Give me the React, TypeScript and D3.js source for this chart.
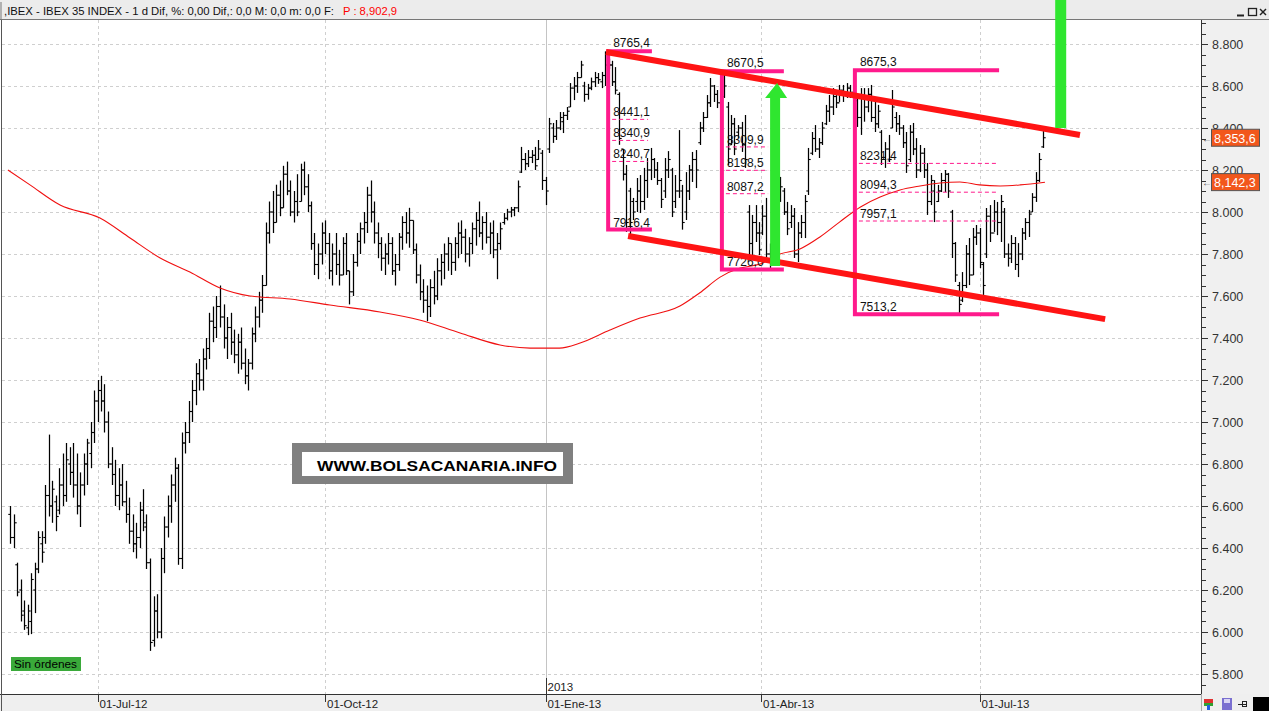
import React from "react";
import * as d3 from "d3";

// ---------- DATA ----------
// daily bars, index = trading day (0 = early June 2012). [open, high, low, close]
const priceBars: number[][] = [
  [6560,6600,6420,6450],[6450,6560,6400,6520],[6320,6330,6170,6190],[6200,6250,6050,6080],[6100,6150,6010,6030],
  [6020,6130,5985,6100],[6050,6280,5990,6250],[6200,6330,6090,6300],[6300,6480,6280,6450],[6420,6480,6330,6380],
  [6450,6700,6420,6650],[6650,6940,6550,6600],[6600,6720,6520,6680],[6620,6650,6480,6550],[6580,6780,6560,6700],
  [6700,6850,6600,6650],[6650,6900,6620,6820],[6800,6880,6700,6760],[6760,6900,6640,6700],[6700,6850,6560,6600],
  [6600,6760,6500,6700],[6700,6850,6650,6800],[6800,6920,6700,6900],[6850,7000,6780,6950],[6950,7150,6900,7100],
  [7100,7200,7000,7150],[7150,7220,7050,7100],[7100,7180,6950,7000],[7000,7050,6780,6800],[6800,6880,6700,6750],
  [6750,6820,6600,6650],[6650,6780,6580,6700],[6700,6800,6600,6620],[6620,6720,6520,6560],[6560,6640,6420,6480],
  [6480,6560,6380,6420],[6420,6520,6350,6450],[6450,6620,6400,6580],[6580,6680,6480,6520],[6500,6560,6300,6330],
  [6330,6350,5910,5950],[5960,6170,5930,6100],[6100,6180,5970,6000],[6000,6400,5970,6350],[6350,6550,6280,6500],
  [6500,6650,6450,6600],[6600,6750,6520,6700],[6700,6830,6620,6780],[6780,6800,6320,6350],[6350,6950,6300,6900],
  [6900,7000,6850,6950],[6950,7100,6900,7050],[7050,7200,7000,7150],[7150,7280,7080,7230],[7230,7300,7150,7200],
  [7200,7350,7150,7300],[7300,7400,7250,7350],[7350,7520,7300,7480],[7480,7550,7380,7450],[7450,7600,7400,7550],
  [7550,7650,7450,7500],[7500,7560,7350,7400],[7400,7500,7300,7450],[7450,7520,7320,7380],[7380,7440,7280,7320],
  [7320,7420,7230,7380],[7380,7450,7250,7280],[7280,7350,7180,7220],[7220,7300,7150,7280],[7280,7450,7250,7420],
  [7420,7550,7380,7500],[7500,7620,7450,7580],[7580,7700,7520,7650],[7650,7950,7650,7900],[7900,8050,7850,8000],
  [8000,8100,7900,7950],[7950,8130,7950,8080],[8080,8150,7980,8020],[8020,8220,8020,8180],[8180,8240,8080,8100],
  [8100,8150,7980,8000],[8000,8100,7950,8050],[8050,8180,7980,8000],[8050,8230,8050,8200],[8200,8240,8080,8120],
  [8120,8180,8000,8030],[8030,8050,7820,7850],[7850,7900,7700,7750],[7750,7850,7680,7800],[7800,7950,7750,7900],
  [7900,7960,7800,7850],[7850,7900,7680,7720],[7720,7850,7650,7800],[7800,7900,7700,7750],[7750,7820,7650,7700],
  [7700,7880,7700,7850],[7850,7900,7700,7720],[7720,7720,7560,7620],[7620,7800,7600,7760],[7760,7900,7740,7860],
  [7860,7950,7800,7920],[7920,8000,7850,7950],[7950,8120,7900,8080],[8080,8150,7950,8000],[8000,8050,7850,7900],
  [7900,7950,7780,7850],[7850,7880,7720,7780],[7780,7850,7700,7800],[7800,7900,7750,7850],[7850,7880,7700,7720],
  [7720,7800,7650,7750],[7750,7900,7720,7880],[7880,7980,7820,7950],[7950,8000,7850,7900],[7900,8020,7830,7960],
  [7960,7960,7800,7820],[7820,7850,7660,7700],[7700,7750,7580,7620],[7620,7680,7520,7580],[7580,7650,7480,7550],
  [7550,7680,7500,7640],[7640,7720,7560,7600],[7600,7780,7580,7720],[7720,7800,7650,7760],[7760,7850,7680,7800],
  [7800,7880,7720,7850],[7850,7850,7700,7760],[7760,7880,7720,7850],[7850,7950,7780,7900],[7900,7960,7800,7880],
  [7880,7920,7760,7800],[7800,7880,7740,7850],[7850,7950,7800,7920],[7920,8000,7840,7960],[7960,8050,7880,7900],
  [7900,7980,7820,7950],[7950,8000,7850,7880],[7880,7950,7800,7900],[7900,7960,7780,7820],[7820,7900,7680,7850],
  [7850,7950,7820,7920],[7950,7995,7940,7970],[7970,8015,7960,8000],[8000,8024,7975,8010],[8010,8024,7980,8020],
  [8020,8150,8000,8120],[8190,8310,8186,8250],[8250,8281,8200,8230],[8230,8295,8214,8260],[8260,8295,8233,8270],
  [8270,8310,8200,8220],[8250,8343,8248,8300],[8280,8295,8105,8150],[8150,8167,8033,8100],[8300,8448,8281,8420],
  [8400,8424,8329,8360],[8360,8438,8343,8400],[8400,8476,8390,8450],[8430,8476,8376,8460],[8460,8500,8438,8480],
  [8500,8614,8500,8590],[8590,8643,8533,8600],[8600,8667,8567,8640],[8640,8720,8640,8700],[8600,8620,8525,8560],
  [8560,8610,8535,8590],[8590,8640,8580,8620],[8620,8667,8595,8640],[8640,8662,8610,8630],[8620,8667,8590,8650],
  [8650,8765,8600,8700],[8700,8730,8680,8700],[8700,8720,8600,8620],[8620,8690,8560,8580],[8560,8570,8320,8350],
  [8300,8300,8150,8180],[8180,8224,7905,7950],[8100,8115,7890,7950],[8050,8067,7962,8000],[8050,8162,8000,8100],
  [8100,8176,7995,8050],[8050,8210,8010,8150],[8150,8257,8067,8200],[8200,8305,8152,8250],[8250,8257,8162,8200],
  [8200,8238,8129,8150],[8150,8162,8019,8060],[8100,8257,8067,8200],[8200,8290,8162,8250],[8200,8210,7976,8000],
  [8050,8176,8019,8100],[8100,8390,8067,8150],[8100,8129,7916,7950],[8000,8190,7962,8100],[8100,8224,8057,8200],
  [8200,8286,8143,8250],[8250,8295,8114,8200],[8330,8429,8319,8400],[8400,8476,8381,8450],[8450,8557,8448,8520],
  [8520,8638,8500,8600],[8600,8605,8524,8560],[8560,8581,8495,8520],[8520,8571,8448,8550],[8550,8670,8543,8600],
  [8500,8524,8224,8300],[8320,8462,8319,8420],[8420,8448,8271,8300],[8380,8414,8352,8400],[8400,8429,8286,8320],
  [8320,8462,8210,8250],[8000,8033,7795,7850],[7850,7986,7795,7950],[7950,8033,7857,7900],[7900,7952,7795,7820],
  [7900,8033,7890,7980],[7980,8067,7781,7800],[7800,7850,7727,7760],[7880,8010,7867,7990],[7990,8143,7905,8100],
  [8100,8167,8048,8120],[8100,8114,7986,8000],[8000,8048,7890,7920],[7950,8033,7924,7980],[7980,8019,7781,7800],
  [7800,7952,7762,7900],[7900,7986,7876,7950],[7950,8081,7876,8050],[8100,8305,8081,8250],[8280,8381,8271,8350],
  [8350,8414,8286,8300],[8300,8352,8257,8330],[8330,8429,8319,8400],[8420,8510,8414,8480],[8480,8557,8429,8500],
  [8500,8590,8462,8550],[8550,8557,8495,8520],[8520,8605,8524,8580],[8580,8605,8524,8560],[8560,8614,8543,8590],
  [8590,8605,8543,8570],[8570,8675,8500,8530],[8530,8543,8405,8450],[8450,8590,8367,8550],[8550,8590,8430,8500],
  [8500,8590,8475,8560],[8560,8605,8429,8450],[8450,8524,8381,8420],[8420,8510,8400,8480],[8380,8390,8224,8260],
  [8260,8333,8210,8300],[8300,8367,8238,8250],[8400,8581,8400,8500],[8450,8476,8381,8420],[8420,8462,8367,8400],
  [8400,8414,8305,8330],[8330,8381,8186,8220],[8250,8414,8238,8380],[8380,8424,8271,8300],[8300,8352,8162,8200],
  [8200,8319,8190,8280],[8280,8305,8162,8200],[8200,8233,7986,8050],[8050,8176,8033,8150],[8100,8152,7952,8000],
  [8050,8129,8048,8100],[8100,8186,8095,8150],[8150,8200,8095,8180],[8180,8186,8067,8100],[8000,8010,7781,7850],
  [7850,7857,7667,7700],[7650,7667,7513,7560],[7580,7714,7571,7650],[7650,7843,7638,7800],[7800,7876,7652,7700],
  [7700,7924,7700,7880],[7880,7938,7843,7900],[7900,7924,7733,7760],[7750,7762,7605,7650],[7800,8019,7781,7980],
  [7980,8033,7857,7900],[7900,8057,7905,8000],[8000,8048,7890,7950],[7950,8081,7857,8050],[8000,8019,7781,7800],
  [7800,7850,7740,7780],[7800,7890,7757,7850],[7850,7881,7724,7750],[7750,7852,7690,7800],[7800,7924,7771,7900],
  [7900,7971,7867,7950],[7950,8010,7881,7990],[8000,8090,8000,8070],[8070,8190,8048,8150],[8150,8281,8143,8250],
  [8310,8400,8305,8353.6],
];

// moving average (red thin line): [day index, value]
const maIndex = [-0.6, 5.7, 14.3, 25.7, 34.3, 42.9, 51.4, 60, 68.6, 80, 91.4, 105.7, 117, 128.6, 140, 148.6, 157, 162.9, 171.4, 180, 191.4, 197, 202.9, 208.6, 214.3, 220, 225.7, 231.4, 237, 243, 248.6, 254.3, 260, 265.7, 271.4, 277, 282.9, 288.6, 295.7];
const maValue = [8200, 8129, 8033, 7971, 7876, 7781, 7714, 7638, 7600, 7586, 7557, 7524, 7486, 7424, 7367, 7352, 7352, 7376, 7438, 7495, 7552, 7614, 7690, 7733, 7752, 7800, 7824, 7881, 7952, 8024, 8071, 8105, 8124, 8138, 8143, 8129, 8124, 8129, 8142];

// channel (thick red) lines: [startIdx, startVal, endIdx, endVal]
const channelUpper = [170.3, 8762, 305.7, 8367];
const channelLower = [176.6, 7886, 312.9, 7490];

// Fibonacci boxes (magenta)
const fibStart = [170.9, 203.4, 241.4];
const fibEnd = [183.4, 221.1, 282.6];
const fibDashEnd = [182.3, 216.6, 282.0];
const fibHigh = [8765.4, 8670.5, 8675.3];
const fibLow = [7916.4, 7726.6, 7513.2];
const fibLevels = [
  [8441.1, 8340.9, 8240.7],
  [8309.9, 8198.5, 8087.2],
  [8231.4, 8094.3, 7957.1],
];

// green arrows: [index, fromValue, toValue]
const arrowUp = [218.6, 7743, 8614];
const arrowBar = [300.2, 8400, 9010];

// axes
const yTicks = [5800, 6000, 6200, 6400, 6600, 6800, 7000, 7200, 7400, 7600, 7800, 8000, 8200, 8400, 8600, 8800];
const monthIdx = [25, 90, 153, 214.6, 277];
const monthLabels = ["01-Jul-12", "01-Oct-12", "01-Ene-13", "01-Abr-13", "01-Jul-13"];
const yearIdx = 153;
const yearLabel = "2013";
const lastClose = 8353.6;
const maLast = 8142.3;
const headerText = ",IBEX - IBEX 35 INDEX -  1 d Dif, %: 0,00 Dif,: 0,0 M: 0,0 m: 0,0 F:";
const headerPrice = 8902.9;

// ---------- LAYOUT ----------
const W = 1269, H = 711;
const plotLeft = 2, plotRight = 1201, plotTop = 20, plotBottom = 694;

const x = d3.scaleLinear().domain([0, 340]).range([10, 1200]);
const y = d3.scaleLinear().domain([5800, 8800]).range([674, 44]);

const fmtAxis = (v: number) => d3.format(",")(v).replace(/,/g, ".");
const fmtFib = (v: number) => v.toFixed(1).replace(".", ",");
const fmtTag = (v: number) => d3.format(",.1f")(v).replace(".", ",");

const PINK = "#ff1a8c";
const RED = "#ff1414";
const GREEN = "#2fe62f";
const FONT = "'Liberation Sans', 'DejaVu Sans', sans-serif";

export default function App() {
  const maLine = d3
    .line<number>()
    .x((_, i) => x(maIndex[i]))
    .y((v) => y(v))
    .curve(d3.curveMonotoneX)(maValue) as string;

  const minorTicks: number[] = d3.range(5750, 8951, 50);

  const aX = x(arrowUp[0]);
  const aBot = y(arrowUp[1]);
  const aTip = y(arrowUp[2]);
  const arrowPts = [
    [aX - 5, aBot], [aX - 5, aTip + 15], [aX - 10, aTip + 15], [aX + 2, aTip],
    [aX + 12, aTip + 15], [aX + 5, aTip + 15], [aX + 5, aBot],
  ].map((p) => p.join(",")).join(" ");

  return (
    <svg width={W} height={H} style={{ position: "absolute", left: 0, top: 0, background: "#fff" }} fontFamily={FONT}>
      <rect x={0} y={0} width={W} height={H} fill="#ffffff" />
      <rect x={plotRight} y={plotTop} width={W - plotRight} height={plotBottom - plotTop} fill="#f0f0f0" />
      <rect x={0} y={plotBottom} width={W} height={H - plotBottom} fill="#efefef" />

      {/* grid */}
      {yTicks.map((t) => (
        <line key={"g" + t} x1={plotLeft} x2={plotRight} y1={Math.round(y(t)) + 0.5} y2={Math.round(y(t)) + 0.5}
          stroke="#cfcfcf" strokeDasharray="3,3" />
      ))}
      {monthIdx.map((m, i) => (
        <line key={"v" + i} x1={Math.round(x(m)) + 0.5} x2={Math.round(x(m)) + 0.5} y1={plotTop} y2={plotBottom}
          stroke="#cfcfcf" strokeDasharray="3,3" />
      ))}
      <line x1={Math.round(x(yearIdx)) + 0.5} x2={Math.round(x(yearIdx)) + 0.5} y1={plotTop} y2={plotBottom - 14} stroke="#c4c4c4" />

      {/* OHLC bars */}
      <g stroke="#000" strokeWidth={1.25}>
        {priceBars.map(([o, h, l, c], i) => {
          const cx = Math.round(x(i)) + 0.5;
          return (
            <g key={i}>
              <line x1={cx} x2={cx} y1={y(h)} y2={y(l)} />
              <line x1={cx - 2.2} x2={cx} y1={y(o)} y2={y(o)} strokeWidth={1.1} />
              <line x1={cx} x2={cx + 2.2} y1={y(c)} y2={y(c)} strokeWidth={1.1} />
            </g>
          );
        })}
      </g>

      {/* moving average */}
      <path d={maLine} fill="none" stroke="#f01010" strokeWidth={1.1} />

      {/* Fibonacci boxes */}
      {fibStart.map((s, k) => {
        const x0 = x(s), x1 = x(fibEnd[k]), xd = x(fibDashEnd[k]);
        const yh = y(fibHigh[k]), yl = y(fibLow[k]);
        return (
          <g key={"fib" + k}>
            {fibLevels[k].map((lv, j) => (
              <g key={j}>
                <line x1={x0 + 4} x2={xd} y1={y(lv)} y2={y(lv)} stroke={PINK} strokeDasharray="4,3" strokeWidth={1} />
                <text x={x0 + 5} y={y(lv) - 3} fontSize={12} fill="#111">{fmtFib(lv)}</text>
              </g>
            ))}
            <path d={`M${x1},${yh}H${x0}V${yl}H${x1}`} fill="none" stroke={PINK} strokeWidth={4} />
            <text x={x0 + 5} y={yh - 4} fontSize={12} fill="#111">{fmtFib(fibHigh[k])}</text>
            <text x={x0 + 5} y={yl - 3} fontSize={12} fill="#111">{fmtFib(fibLow[k])}</text>
          </g>
        );
      })}

      {/* channel lines */}
      <line x1={x(channelUpper[0])} y1={y(channelUpper[1])} x2={x(channelUpper[2])} y2={y(channelUpper[3])} stroke={RED} strokeWidth={6} />
      <line x1={x(channelLower[0])} y1={y(channelLower[1])} x2={x(channelLower[2])} y2={y(channelLower[3])} stroke={RED} strokeWidth={6} />

      {/* green arrows */}
      <polygon points={arrowPts} fill={GREEN} />
      <rect x={x(arrowBar[0]) - 5.5} y={y(arrowBar[2])} width={11} height={y(arrowBar[1]) - y(arrowBar[2])} fill={GREEN} />

      {/* watermark */}
      <rect x={292} y={443} width={281} height={41} fill="#808080" />
      <rect x={302} y={452} width={261} height={24} fill="#ffffff" />
      <text x={317} y={471} fontSize={15} fontWeight="bold" fill="#000" textLength={240} lengthAdjust="spacingAndGlyphs"
        fontFamily="'Liberation Sans', Arial, sans-serif">WWW.BOLSACANARIA.INFO</text>

      {/* Sin ordenes */}
      <rect x={11} y={657} width={70} height={14} fill="#3aaa3a" />
      <text x={14} y={668} fontSize={11} fill="#000" textLength={63} lengthAdjust="spacingAndGlyphs">Sin órdenes</text>

      {/* right axis */}
      <line x1={plotRight + 0.5} x2={plotRight + 0.5} y1={plotTop} y2={plotBottom} stroke="#333" />
      {minorTicks.map((t) => (
        <line key={"m" + t} x1={plotRight} x2={plotRight + (t % 200 === 0 ? 7 : 5)} y1={Math.round(y(t)) + 0.5} y2={Math.round(y(t)) + 0.5} stroke="#333" />
      ))}
      {yTicks.map((t) => (
        <text key={"t" + t} x={1212} y={y(t) + 5} fontSize={12.5} fill="#333">{fmtAxis(t)}</text>
      ))}

      {/* price tags */}
      {[lastClose, maLast].map((v, i) => (
        <g key={"tag" + i}>
          <text x={1202} y={y(v) + 4} fontSize={10} fill="#555">←</text>
          <rect x={1211.5} y={y(v) - 8.5} width={48} height={17} fill="#f2571c" stroke="#555" />
          <text x={1214} y={y(v) + 5} fontSize={12.5} fill="#fff">{fmtTag(v)}</text>
        </g>
      ))}

      {/* bottom axis */}
      <line x1={0} x2={plotRight} y1={plotBottom + 0.5} y2={plotBottom + 0.5} stroke="#333" />
      {monthIdx.map((m, i) => (
        <g key={"ml" + i}>
          <line x1={Math.round(x(m)) + 0.5} x2={Math.round(x(m)) + 0.5} y1={plotBottom} y2={plotBottom + 8} stroke="#333" />
          <text x={x(m) + 2} y={708} fontSize={11.5} fill="#222">{monthLabels[i]}</text>
        </g>
      ))}
      <line x1={Math.round(x(yearIdx)) + 0.5} x2={Math.round(x(yearIdx)) + 0.5} y1={678} y2={plotBottom} stroke="#333" />
      <text x={x(yearIdx) + 2} y={691} fontSize={11.5} fill="#222">{yearLabel}</text>

      <line x1={1.5} x2={1.5} y1={plotTop} y2={H} stroke="#555" />

      {/* header */}
      <rect x={0} y={0} width={W} height={plotTop} fill="#ececec" />
      <line x1={0} x2={W} y1={plotTop - 0.5} y2={plotTop - 0.5} stroke="#777" />
      <line x1={1} x2={1} y1={2} y2={plotTop} stroke="#777" />
      <text x={4} y={15} fontSize={11.5} fill="#111" textLength={330} lengthAdjust="spacingAndGlyphs">{headerText}</text>
      <text x={343} y={15} fontSize={11.5} fill="#ff0000" textLength={54} lengthAdjust="spacingAndGlyphs">{"P : " + fmtTag(headerPrice)}</text>
      <g fill="none" stroke="#222">
        <line x1={1237} x2={1244} y1={15.5} y2={15.5} strokeWidth={2} />
        <rect x={1248.5} y={8.5} width={8} height={7} strokeWidth={1.3} />
        <line x1={1260} x2={1266} y1={9} y2={15} strokeWidth={1.4} />
        <line x1={1266} x2={1260} y1={9} y2={15} strokeWidth={1.4} />
      </g>

      <rect x={x(arrowBar[0]) - 5.5} y={0} width={11} height={plotTop} fill={GREEN} />

      {/* bottom right icons */}
      <line x1={plotRight + 0.5} x2={plotRight + 0.5} y1={plotBottom} y2={H} stroke="#aaa" />
      <rect x={1204} y={699} width={9} height={4} fill="#e03030" />
      <rect x={1204} y={703} width={9} height={3} fill="#30a030" />
      <rect x={1207} y={705} width={3} height={5} fill="#2060e0" />
      <rect x={1222} y={698} width={10} height={12} fill="#7a6fd0" />
      <rect x={1224} y={699} width={6} height={4} fill="#d8d4f4" />
      <line x1={1238} x2={1246} y1={704.5} y2={704.5} stroke="#222" />
      <rect x={1242.5} y={701.5} width={4} height={5} fill="none" stroke="#222" />
      <rect x={1253} y={697} width={16} height={14} fill="#000" />
    </svg>
  );
}
